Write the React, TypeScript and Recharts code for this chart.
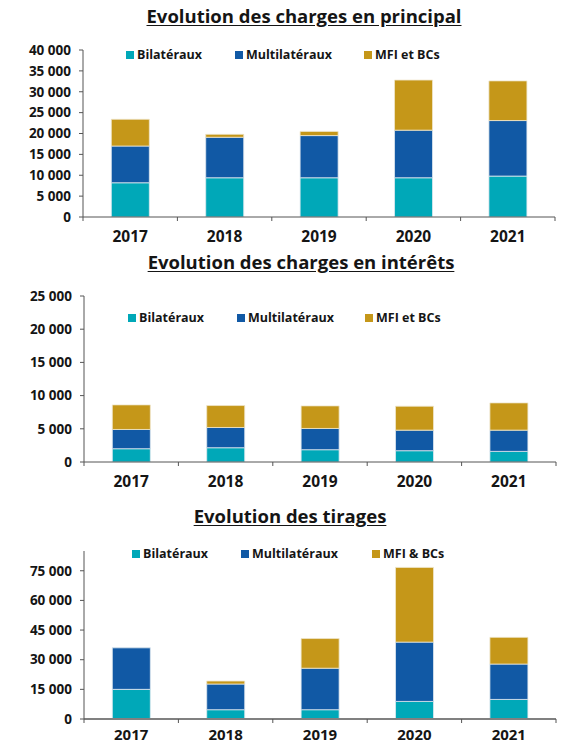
import React from 'react';
import { BarChart, Bar, XAxis, YAxis, Legend } from 'recharts';

const years = ['2017', '2018', '2019', '2020', '2021'];
const seriesNames = ['Bilatéraux', 'Multilatéraux', 'MFI et BCs'];
const seriesNamesTirages = ['Bilatéraux', 'Multilatéraux', 'MFI & BCs'];

const principalBilateraux = [8200, 9400, 9400, 9400, 9800];
const principalMultilateraux = [8800, 9700, 10100, 11400, 13300];
const principalMfi = [6400, 700, 1000, 12000, 9500];
const principalTicks = [0, 5000, 10000, 15000, 20000, 25000, 30000, 35000, 40000];

const interetsBilateraux = [2000, 2150, 1850, 1700, 1600];
const interetsMultilateraux = [2900, 3050, 3200, 3100, 3200];
const interetsMfi = [3700, 3300, 3400, 3600, 4100];
const interetsTicks = [0, 5000, 10000, 15000, 20000, 25000];

const tiragesBilateraux = [15000, 4700, 4700, 8900, 9900];
const tiragesMultilateraux = [21000, 13000, 21000, 30000, 17900];
const tiragesMfi = [0, 1500, 15000, 37800, 13500];
const tiragesTicks = [0, 15000, 30000, 45000, 60000, 75000];

const COLORS = ['#00A8B8', '#1159A5', '#C59719'];
const FONT = '"Open Sans", "Noto Sans", sans-serif';
const TEXT = '#151515';
const AXIS = '#555555';

const build = (a: number[], b: number[], c: number[]) =>
  years.map((y, i) => ({ year: y, bil: a[i], multi: b[i], mfi: c[i] }));

const fmt = (v: number) => String(v).replace(/\B(?=(\d{3})+(?!\d))/g, ' ');

const makeXTick = (halfBand: number, axisColor: string, gap: number, fontSize: number) => (props: any) => {
  const { x, y, payload, index } = props;
  const axisY = y - 4 - gap;
  return (
    <g>
      <line x1={x - halfBand} x2={x - halfBand} y1={axisY} y2={axisY + 4} stroke={axisColor} strokeWidth={1} />
      {index === years.length - 1 && (
        <line x1={x + halfBand} x2={x + halfBand} y1={axisY} y2={axisY + 4} stroke={axisColor} strokeWidth={1} />
      )}
      <text x={x} y={y} dy="0.71em" textAnchor="middle" fontFamily={FONT} fontWeight={700} fontSize={fontSize} fill={TEXT}>
        {payload.value}
      </text>
    </g>
  );
};

const makeLegend = (left: number, widths: number[], names: string[]) => (props: any) => {
  const payload = [...(props.payload || [])].sort(
    (a: any, b: any) => names.indexOf(a.value) - names.indexOf(b.value)
  );
  return (
    <div style={{ display: 'flex', marginLeft: left, fontFamily: FONT, fontWeight: 700, fontSize: 12.5, color: TEXT, lineHeight: '14px' }}>
      {payload.map((p: any, i: number) => (
        <div key={i} style={{ width: widths[i] ?? 'auto', display: 'flex', alignItems: 'center', whiteSpace: 'nowrap' }}>
          <span style={{ display: 'inline-block', width: 8, height: 8, background: p.color, marginRight: 3 }} />
          <span>{p.value}</span>
        </div>
      ))}
    </div>
  );
};

type PanelProps = {
  top: number;
  height: number;
  data: any[];
  names: string[];
  ticks: number[];
  domainMax: number;
  margin: { top: number; right: number; bottom: number; left: number };
  yWidth: number;
  xHeight: number;
  xGap: number;
  xFont: number;
  legendTop: number;
  legendLeft: number;
  legendWidths: number[];
  title: string;
  titleCenter: number;
  titleTop: number;
  xAxisColor: string;
  xAxisWidth: number;
};

const Panel = (p: PanelProps) => {
  const W = 562;
  const halfBand = (W - p.margin.left - p.margin.right - p.yWidth) / years.length / 2;
  return (
    <div style={{ position: 'absolute', left: 0, top: p.top, width: W, height: p.height }}>
      <div
        style={{
          position: 'absolute',
          left: p.titleCenter,
          top: p.titleTop,
          transform: 'translateX(-50%)',
          whiteSpace: 'nowrap',
          fontFamily: FONT,
          fontWeight: 700,
          fontSize: 18.5,
          lineHeight: '22px',
          color: TEXT,
          textDecoration: 'underline',
          textUnderlineOffset: '2px',
        }}
      >
        {p.title}
      </div>
      <BarChart width={W} height={p.height} data={p.data} margin={p.margin} barCategoryGap="30%">
        <XAxis
          dataKey="year"
          height={p.xHeight}
          tickLine={false}
          tickSize={4}
          tickMargin={p.xGap}
          axisLine={{ stroke: p.xAxisColor, strokeWidth: p.xAxisWidth }}
          tick={makeXTick(halfBand, AXIS, p.xGap, p.xFont)}
          interval={0}
        />
        <YAxis
          width={p.yWidth}
          domain={[0, p.domainMax]}
          ticks={p.ticks}
          interval={0}
          tickSize={4}
          tickMargin={8}
          tickLine={{ stroke: AXIS }}
          axisLine={{ stroke: AXIS }}
          tickFormatter={fmt}
          tick={{ fontFamily: FONT, fontWeight: 700, fontSize: 13.5, fill: TEXT }}
          allowDataOverflow
        />
        <Legend
          layout="horizontal"
          verticalAlign="middle"
          align="center"
          wrapperStyle={{ top: p.legendTop, left: 0, width: W }}
          content={makeLegend(p.legendLeft, p.legendWidths, p.names)}
        />
        <Bar dataKey="bil" name={p.names[0]} stackId="s" fill={COLORS[0]} stroke="#dfe9ef" strokeWidth={0.8} isAnimationActive={false} />
        <Bar dataKey="multi" name={p.names[1]} stackId="s" fill={COLORS[1]} stroke="#dfe9ef" strokeWidth={0.8} isAnimationActive={false} />
        <Bar dataKey="mfi" name={p.names[2]} stackId="s" fill={COLORS[2]} stroke="#efe6cc" strokeWidth={0.8} isAnimationActive={false} />
      </BarChart>
    </div>
  );
};

export default function App() {
  return (
    <div style={{ position: 'absolute', left: 0, top: 0, width: 562, height: 745, background: '#ffffff', overflow: 'hidden' }}>
      <Panel
        top={0}
        height={250}
        data={build(principalBilateraux, principalMultilateraux, principalMfi)}
        names={seriesNames}
        ticks={principalTicks}
        domainMax={40000}
        margin={{ top: 50, right: 7, bottom: 3, left: 0 }}
        yWidth={83}
        xHeight={30}
        xGap={10}
        xFont={15.5}
        legendTop={48}
        legendLeft={126}
        legendWidths={[109, 129, 100]}
        title="Evolution des charges en principal"
        titleCenter={304}
        titleTop={5}
        xAxisColor={AXIS}
        xAxisWidth={1}
      />
      <Panel
        top={250}
        height={250}
        data={build(interetsBilateraux, interetsMultilateraux, interetsMfi)}
        names={seriesNames}
        ticks={interetsTicks}
        domainMax={25000}
        margin={{ top: 46, right: 6, bottom: 8, left: 0 }}
        yWidth={84}
        xHeight={30}
        xGap={10}
        xFont={15.5}
        legendTop={61}
        legendLeft={128}
        legendWidths={[109, 128, 100]}
        title="Evolution des charges en intérêts"
        titleCenter={301}
        titleTop={1}
        xAxisColor={AXIS}
        xAxisWidth={1}
      />
      <Panel
        top={500}
        height={245}
        data={build(tiragesBilateraux, tiragesMultilateraux, tiragesMfi)}
        names={seriesNamesTirages}
        ticks={tiragesTicks}
        domainMax={85000}
        margin={{ top: 51, right: 6, bottom: 0, left: 0 }}
        yWidth={84}
        xHeight={26}
        xGap={6}
        xFont={15}
        legendTop={47}
        legendLeft={132}
        legendWidths={[109, 131, 100]}
        title="Evolution des tirages"
        titleCenter={290}
        titleTop={5}
        xAxisColor="#808080"
        xAxisWidth={2}
      />
    </div>
  );
}
